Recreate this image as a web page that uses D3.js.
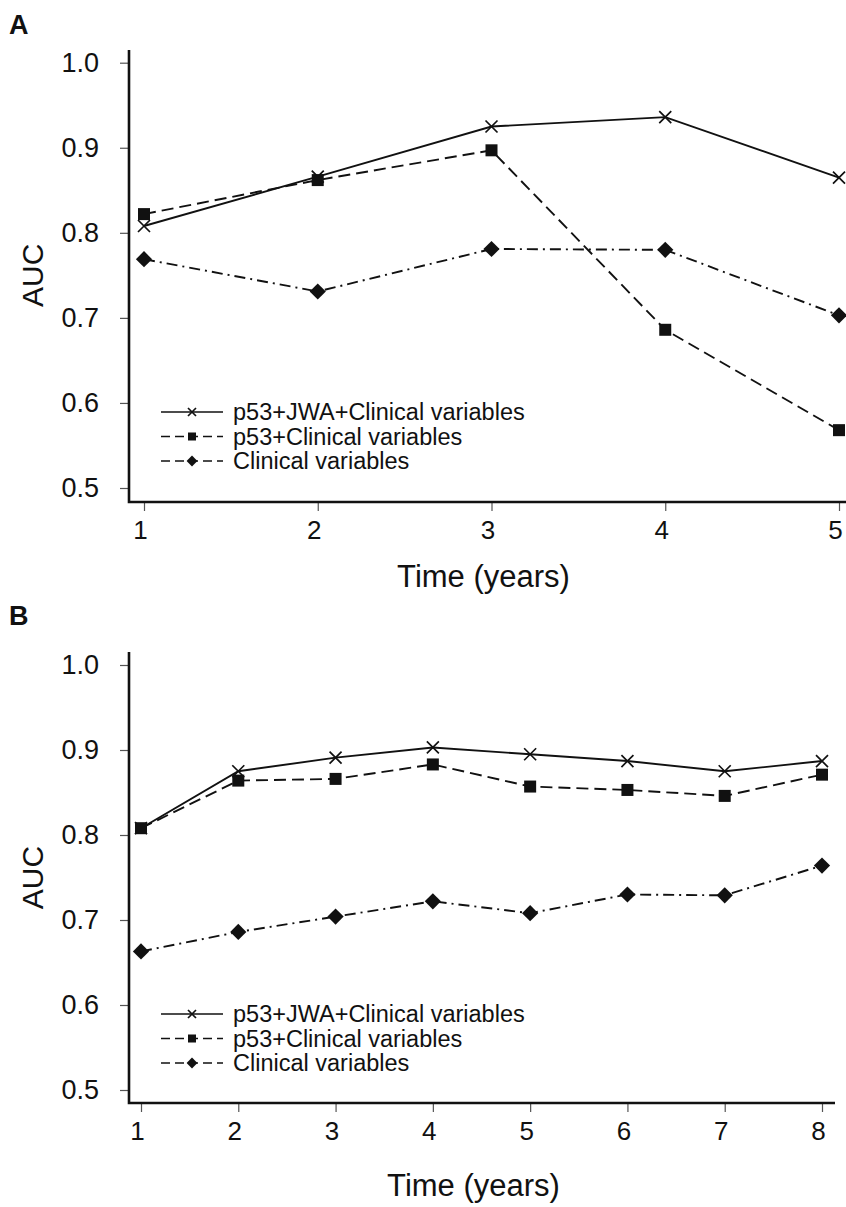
<!DOCTYPE html>
<html>
<head>
<meta charset="utf-8">
<script src="https://cdn.jsdelivr.net/npm/d3@7"></script>
<style>
  body { margin: 0; background: #fff; }
  svg { display: block; font-family: "Liberation Sans", Arial, sans-serif; }
</style>
</head>
<body>
<svg id="chart" width="846" height="1207"></svg>
<script>
// series names (legend order)
var seriesNames = ["p53+JWA+Clinical variables", "p53+Clinical variables", "Clinical variables"];

// panel A: years 1-5
var yearsA = [1, 2, 3, 4, 5];
var jwaA = [0.808, 0.866, 0.925, 0.936, 0.865];
var p53A = [0.822, 0.862, 0.897, 0.686, 0.568];
var clinA = [0.769, 0.731, 0.781, 0.780, 0.703];

// panel B: years 1-8
var yearsB = [1, 2, 3, 4, 5, 6, 7, 8];
var jwaB = [0.808, 0.875, 0.891, 0.903, 0.895, 0.887, 0.875, 0.887];
var p53B = [0.808, 0.864, 0.866, 0.883, 0.857, 0.853, 0.846, 0.871];
var clinB = [0.663, 0.686, 0.704, 0.722, 0.708, 0.730, 0.729, 0.764];

var yTicks = [0.5, 0.6, 0.7, 0.8, 0.9, 1.0];

var svg = d3.select("#chart");
var ink = "#111";

var styles = [
  { dash: null, marker: "cross" },
  { dash: "12,6", marker: "square" },
  { dash: "11,5,2,5", marker: "diamond" }
];

function marker(g, type, cx, cy, s) {
  if (type === "cross") {
    g.append("path")
      .attr("d", "M" + (cx - s) + "," + (cy - s) + "L" + (cx + s) + "," + (cy + s) +
                 "M" + (cx - s) + "," + (cy + s) + "L" + (cx + s) + "," + (cy - s))
      .attr("stroke", ink).attr("stroke-width", 1.7).attr("fill", "none");
  } else if (type === "square") {
    g.append("rect")
      .attr("x", cx - s).attr("y", cy - s)
      .attr("width", 2 * s).attr("height", 2 * s)
      .attr("fill", ink);
  } else {
    var d = s * 1.35;
    g.append("path")
      .attr("d", "M" + cx + "," + (cy - d) + "L" + (cx + d) + "," + cy +
                 "L" + cx + "," + (cy + d) + "L" + (cx - d) + "," + cy + "Z")
      .attr("fill", ink);
  }
}

function panel(opt) {
  var g = svg.append("g");
  var x = d3.scaleLinear().domain([1, opt.years[opt.years.length - 1]]).range(opt.xr);
  var y = d3.scaleLinear().domain([0.5, 1.0]).range(opt.yr);

  // panel letter
  g.append("text").attr("x", 9).attr("y", opt.letterY)
    .attr("font-size", 27).attr("font-weight", "bold").attr("fill", ink)
    .text(opt.letter);

  // y axis
  var ya = g.append("g").attr("transform", "translate(" + opt.axisX + ",0)")
    .call(d3.axisLeft(y).tickValues(yTicks).tickFormat(d3.format(".1f")).tickSize(9).tickPadding(21));
  ya.select(".domain").remove();
  ya.selectAll(".tick line").attr("stroke", "#555").attr("stroke-width", 1.2);
  ya.selectAll(".tick text").attr("font-size", 27).attr("fill", ink).attr("font-family", null);

  // x axis
  var xa = g.append("g").attr("transform", "translate(0," + opt.axisY + ")")
    .call(d3.axisBottom(x).tickValues(opt.years).tickFormat(d3.format("d")).tickSize(9).tickPadding(10));
  xa.select(".domain").remove();
  xa.selectAll(".tick line").attr("stroke", "#555").attr("stroke-width", 1.2);
  xa.selectAll(".tick text").attr("font-size", 26).attr("fill", ink)
    .attr("font-family", null).attr("dx", -4);

  // L-shaped frame
  g.append("path")
    .attr("d", "M" + opt.axisX + "," + opt.topY + "V" + opt.axisY + "H" + opt.rightX)
    .attr("stroke", ink).attr("stroke-width", 2.6).attr("fill", "none");

  // axis titles
  g.append("text").attr("x", (opt.xr[0] + opt.xr[1]) / 2 - 8).attr("y", opt.titleY)
    .attr("text-anchor", "middle").attr("font-size", 31).attr("fill", ink)
    .text("Time (years)");
  g.append("text")
    .attr("transform", "translate(43," + y(0.75) + ") rotate(-90)")
    .attr("text-anchor", "middle").attr("font-size", 30).attr("fill", ink)
    .text("AUC");

  // series
  opt.series.forEach(function (vals, i) {
    var pts = opt.years.map(function (t, j) { return [x(t), y(vals[j])]; });
    g.append("path").attr("d", d3.line()(pts))
      .attr("fill", "none").attr("stroke", ink).attr("stroke-width", 1.9)
      .attr("stroke-dasharray", styles[i].dash);
    pts.forEach(function (p) {
      marker(g, styles[i].marker, p[0], p[1], 6);
    });
  });

  // legend
  seriesNames.forEach(function (name, i) {
    var ly = opt.legendY + i * 24.5;
    g.append("line").attr("x1", 161).attr("x2", 223).attr("y1", ly).attr("y2", ly)
      .attr("stroke", ink).attr("stroke-width", 1.4)
      .attr("stroke-dasharray", i === 0 ? null : "9,5");
    marker(g, styles[i].marker, 192, ly, 4);
    g.append("text").attr("x", 233).attr("y", ly + 8)
      .attr("font-size", 23.5).attr("fill", ink).text(name);
  });
}

panel({
  letter: "A", letterY: 34,
  years: yearsA, series: [jwaA, p53A, clinA],
  xr: [144, 839], yr: [488, 62.7],
  axisX: 129, axisY: 502, topY: 50, rightX: 846,
  titleY: 587, legendY: 412
});

panel({
  letter: "B", letterY: 625,
  years: yearsB, series: [jwaB, p53B, clinB],
  xr: [141, 822], yr: [1090, 665],
  axisX: 129, axisY: 1103, topY: 652, rightX: 835,
  titleY: 1196, legendY: 1014
});
</script>
</body>
</html>
